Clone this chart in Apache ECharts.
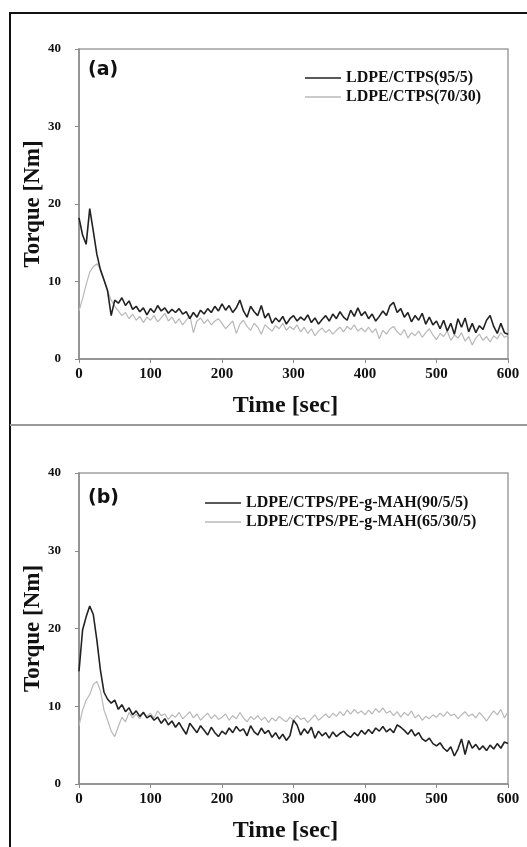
<!DOCTYPE html>
<html>
<head>
<meta charset="utf-8">
<script src="https://cdn.jsdelivr.net/npm/echarts@6/dist/echarts.min.js"></script>
<style>
  html, body { margin: 0; padding: 0; background: #fff; }
  #main { width: 527px; height: 847px; }
</style>
</head>
<body>
<div id="main"></div>
<script>
  // time axis, seconds
  var times = [0, 5, 10, 15, 20, 25, 30, 35, 40, 45,
    50, 55, 60, 65, 70, 75, 80, 85, 90, 95,
    100, 105, 110, 115, 120, 125, 130, 135, 140, 145,
    150, 155, 160, 165, 170, 175, 180, 185, 190, 195,
    200, 205, 210, 215, 220, 225, 230, 235, 240, 245,
    250, 255, 260, 265, 270, 275, 280, 285, 290, 295,
    300, 305, 310, 315, 320, 325, 330, 335, 340, 345,
    350, 355, 360, 365, 370, 375, 380, 385, 390, 395,
    400, 405, 410, 415, 420, 425, 430, 435, 440, 445,
    450, 455, 460, 465, 470, 475, 480, 485, 490, 495,
    500, 505, 510, 515, 520, 525, 530, 535, 540, 545,
    550, 555, 560, 565, 570, 575, 580, 585, 590, 595,
    600];

  var xTicks = [0, 100, 200, 300, 400, 500, 600];
  var yTicks = [0, 10, 20, 30, 40];

  var namesA = ['LDPE/CTPS(95/5)', 'LDPE/CTPS(70/30)'];
  var namesB = ['LDPE/CTPS/PE-g-MAH(90/5/5)', 'LDPE/CTPS/PE-g-MAH(65/30/5)'];

  // (a) LDPE/CTPS(95/5)
  var torqueA1 = [18.2, 16.0, 14.8, 19.4, 16.5, 13.5, 11.5, 10.2, 8.8, 5.6,
    7.6, 7.2, 7.9, 6.9, 7.5, 6.4, 6.8, 6.1, 6.6, 5.7,
    6.5, 6.0, 6.9, 6.2, 6.6, 5.9, 6.4, 6.0, 6.5, 5.8,
    6.1, 5.2, 6.0, 5.4, 6.3, 5.8, 6.5, 6.0, 6.8, 6.2,
    7.1, 6.3, 6.9, 6.0, 6.6, 7.6, 6.2, 5.4, 6.8, 6.1,
    5.6, 6.9, 5.3, 5.9, 4.6, 5.3, 4.8, 5.5, 4.5, 5.2,
    5.6, 4.9, 5.4, 5.0, 5.7, 4.7, 5.3, 4.5, 5.1, 5.6,
    4.9, 5.8, 5.2, 6.1, 5.4, 5.0, 6.3, 5.5, 6.6, 5.6,
    6.1, 5.2, 5.8, 4.9, 5.5, 6.2, 5.6, 6.9, 7.3, 6.0,
    6.5, 5.4, 6.0, 4.8, 5.6, 5.0, 5.9, 4.5, 5.4, 4.4,
    4.9, 3.9, 5.0, 3.6, 4.6, 3.2, 5.2, 4.1, 5.3, 3.5,
    4.6, 3.4, 4.3, 3.8, 5.0, 5.6, 4.2, 3.3, 4.6, 3.4,
    3.2];

  // (a) LDPE/CTPS(70/30)
  var torqueA2 = [6.2, 7.8, 9.6, 11.2, 11.9, 12.3, 11.6, 10.2, 8.8, 7.6,
    6.8, 6.2, 5.6, 6.0, 5.2, 5.8, 5.0, 5.5, 4.7, 5.4,
    5.0, 5.6, 4.8, 5.3, 5.9, 4.9, 5.4, 4.6, 5.2, 4.4,
    5.0, 5.6, 3.4, 4.9, 5.3, 4.6, 5.1, 4.4, 4.9, 5.2,
    4.6, 3.9, 4.4, 4.9, 3.3, 4.5, 5.0, 4.2, 3.7, 4.6,
    4.1, 3.2, 4.4, 4.0, 3.6, 4.3, 3.9, 4.6, 3.7, 4.2,
    3.8, 4.4, 3.5, 4.1, 3.3, 3.9, 3.0, 3.6, 4.0, 3.4,
    3.8, 3.2, 3.7, 4.1, 3.5, 4.2, 3.8, 4.4, 3.6, 4.0,
    3.5, 4.1, 3.4, 3.9, 2.6, 3.7, 3.2, 3.9, 4.2, 3.5,
    3.1, 3.8, 2.7, 3.4, 3.0, 3.6, 2.8, 3.4, 3.9, 3.1,
    2.5, 3.3, 2.9, 3.6, 2.4, 3.1, 2.7, 3.4, 2.3, 2.9,
    1.8, 2.7, 3.2, 2.4, 2.9, 2.2, 3.0, 2.6, 3.4, 2.8,
    3.0];

  // (b) LDPE/CTPS/PE-g-MAH(90/5/5)
  var torqueB1 = [14.5, 19.8, 21.5, 22.9, 21.8, 18.5, 14.6, 11.8, 10.9, 10.4,
    10.8, 9.6, 10.2, 9.3, 9.8, 8.9, 9.4, 8.7, 9.2, 8.5,
    8.8, 8.2, 8.6, 7.8, 8.4, 7.6, 8.1, 7.3, 7.9, 7.1,
    6.4, 7.8, 7.2, 6.6, 7.5, 6.9, 6.3, 7.3, 6.6, 6.1,
    6.8, 6.4, 7.2, 6.6, 7.4, 6.8, 7.1, 6.2, 7.5, 6.7,
    6.3, 7.2, 6.5, 6.9, 6.0, 6.6, 5.8, 6.4, 5.6, 6.2,
    8.2, 7.6, 6.3, 7.1, 6.5, 7.3, 5.9, 6.8, 6.2, 6.6,
    5.9, 6.7, 6.1, 6.5, 6.8, 6.3, 6.0, 6.6, 6.2, 6.9,
    6.4, 7.0, 6.5, 7.2, 6.8, 7.4, 6.7, 7.1, 6.6, 7.6,
    7.3, 6.9, 6.4, 7.0, 6.2, 6.6, 5.8, 5.5, 5.9, 5.2,
    4.9, 5.3, 4.6, 4.2, 4.8, 3.6, 4.5, 5.8, 3.8, 5.6,
    4.6, 5.1, 4.4, 4.9, 4.3, 5.0, 4.5, 5.2, 4.6, 5.4,
    5.2];

  // (b) LDPE/CTPS/PE-g-MAH(65/30/5)
  var torqueB2 = [7.5, 9.5, 10.8, 11.5, 12.8, 13.2, 12.0, 9.5, 8.2, 6.8,
    6.1, 7.4, 8.6, 8.0, 9.2, 8.5, 9.0, 8.4, 9.3, 8.7,
    9.1, 8.5, 9.4, 8.8, 9.0, 8.3, 8.9, 8.6, 9.2, 8.4,
    8.8, 9.3, 8.5, 9.0, 8.2, 8.7, 9.1, 8.4, 8.9, 8.3,
    8.6, 9.0, 8.2, 8.8, 8.4, 9.2, 8.5, 8.0, 8.7, 8.3,
    8.8, 8.2, 8.6, 7.9, 8.5, 8.1, 8.7, 8.3, 8.0, 8.6,
    8.2, 8.8, 8.3, 8.5, 7.9, 8.4, 8.9, 8.2, 8.6, 9.0,
    8.5, 9.1, 8.7, 9.3, 8.8, 9.5, 9.0, 9.6, 9.1, 9.4,
    8.9, 9.5, 9.0, 9.7, 9.2, 9.8, 9.1, 9.4, 8.8, 9.3,
    8.6, 9.2, 8.8, 9.4, 8.5, 8.9, 8.2, 8.7, 8.4, 8.9,
    8.6, 9.1, 8.7, 9.3, 8.8, 9.0, 8.4, 8.9, 9.3, 8.7,
    9.0, 8.5, 9.2, 8.7, 8.1, 8.8, 9.4, 8.9, 9.6, 8.5,
    9.3];

  var serif = "'Liberation Serif', 'DejaVu Serif', serif";
  var darkColor = '#222';
  var lightColor = '#b8b8b8';

  function pairs(ys) {
    var out = [];
    for (var i = 0; i < times.length; i++) {
      out.push([times[i], ys[i]]);
    }
    return out;
  }

  function xAxisFor(gridIndex) {
    return {
      type: 'value', gridIndex: gridIndex,
      min: xTicks[0], max: xTicks[xTicks.length - 1], interval: xTicks[1] - xTicks[0],
      name: 'Time [sec]', nameLocation: 'middle', nameGap: 35, nameMoveOverlap: false,
      nameTextStyle: { fontFamily: serif, fontWeight: 'bold', fontSize: 24, color: '#111', padding: [0, 16, 0, 0] },
      axisLine: { show: true, lineStyle: { color: '#8a8a8a', width: 1.5 } },
      axisTick: { show: true, length: 4, lineStyle: { color: '#8a8a8a' } },
      axisLabel: { fontFamily: serif, fontWeight: 'bold', fontSize: 15, color: '#111', margin: 8 },
      splitLine: { show: false }
    };
  }

  function yAxisFor(gridIndex) {
    return {
      type: 'value', gridIndex: gridIndex,
      min: yTicks[0], max: yTicks[yTicks.length - 1], interval: yTicks[1] - yTicks[0],
      name: 'Torque [Nm]', nameLocation: 'middle', nameGap: 34, nameMoveOverlap: false,
      nameTextStyle: { fontFamily: serif, fontWeight: 'bold', fontSize: 23, color: '#111' },
      axisLine: { show: true, lineStyle: { color: '#8a8a8a', width: 1.5 } },
      axisTick: { show: true, length: 4, lineStyle: { color: '#8a8a8a' } },
      axisLabel: { fontFamily: serif, fontWeight: 'bold', fontSize: 13, color: '#111', margin: 18 },
      splitLine: { show: false }
    };
  }

  function lineSeries(name, ys, idx, dark) {
    return {
      name: name, type: 'line', xAxisIndex: idx, yAxisIndex: idx,
      data: pairs(ys), symbol: 'none', animation: false,
      color: dark ? darkColor : lightColor,
      lineStyle: { color: dark ? darkColor : lightColor, width: dark ? 1.6 : 1.2 },
      z: dark ? 3 : 2
    };
  }

  function legendFor(names, left, top) {
    return {
      show: true,
      orient: 'vertical', left: left, top: top,
      icon: 'rect', itemWidth: 36, itemHeight: 1.5, itemGap: 3,
      data: names,
      textStyle: { fontFamily: serif, fontWeight: 'bold', fontSize: 16, color: '#111' },
      selectedMode: false
    };
  }

  var myChart;
  var domMain = document.getElementById('main');

  function initEcharts() {
    myChart = echarts.init(domMain);
    var option = {
      backgroundColor: '#fff',
      animation: false,
      grid: [
        { left: 79, top: 49, width: 429, height: 310, show: true, borderColor: '#a0a0a0', borderWidth: 1.5 },
        { left: 79, top: 473, width: 429, height: 311, show: true, borderColor: '#a0a0a0', borderWidth: 1.5 }
      ],
      xAxis: [xAxisFor(0), xAxisFor(1)],
      yAxis: [yAxisFor(0), yAxisFor(1)],
      legend: [legendFor(namesA, 300, 65), legendFor(namesB, 200, 490)],
      series: [
        lineSeries(namesA[1], torqueA2, 0, false),
        lineSeries(namesA[0], torqueA1, 0, true),
        lineSeries(namesB[1], torqueB2, 1, false),
        lineSeries(namesB[0], torqueB1, 1, true)
      ],
      graphic: [
        { type: 'rect', shape: { x: 10, y: 13, width: 540, height: 860 }, style: { fill: 'none', stroke: '#111', lineWidth: 2 }, silent: true },
        { type: 'line', shape: { x1: 10, y1: 425, x2: 527, y2: 425 }, style: { stroke: '#999', lineWidth: 2 }, silent: true },
        { type: 'text', left: 88, top: 61, style: { text: '(a)', font: "bold 19px 'DejaVu Sans', sans-serif", fill: '#111' } },
        { type: 'text', left: 88, top: 489, style: { text: '(b)', font: "bold 19px 'DejaVu Sans', sans-serif", fill: '#111' } }
      ]
    };
    myChart.setOption(option);
  }

  initEcharts();
</script>
</body>
</html>
